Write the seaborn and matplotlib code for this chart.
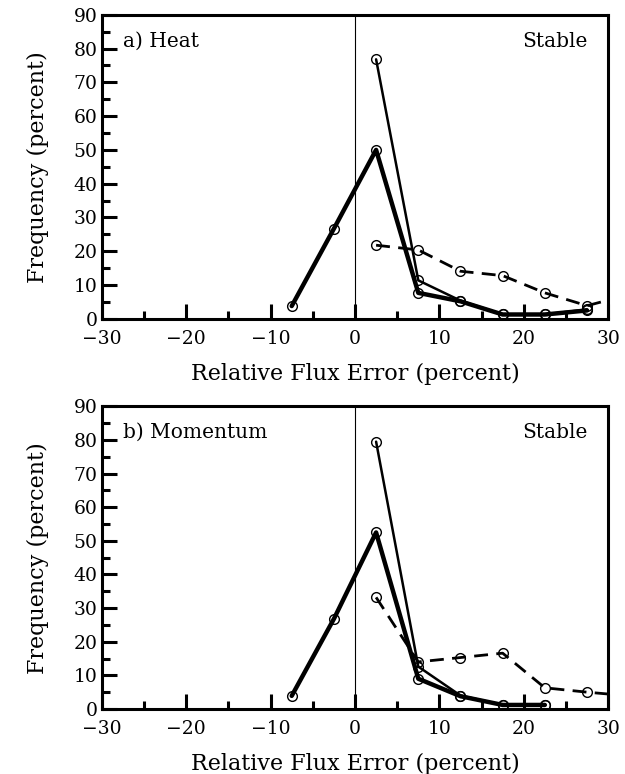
import numpy as np
import pandas as pd
import matplotlib
matplotlib.use("Agg")
import matplotlib.pyplot as plt
import seaborn as sns
from matplotlib.ticker import MultipleLocator

# bin centres (percent)
x_all = [-7.5, -2.5, 2.5, 7.5, 12.5, 17.5, 22.5, 27.5]
x_pos = [2.5, 7.5, 12.5, 17.5, 22.5, 27.5]
x_dash = [2.5, 7.5, 12.5, 17.5, 22.5, 27.5, 32.5]

# a) Heat
heat_thick = [3.8, 26.7, 50.0, 7.7, 5.2, 1.3, 1.3, 2.5]
heat_thin = [76.8, 11.4, 5.4, 1.3, 1.3, 2.8]
heat_dash = [21.8, 20.4, 14.1, 12.8, 7.7, 3.9, 7.2]

# b) Momentum
mom_x_thick = [-7.5, -2.5, 2.5, 7.5, 12.5, 17.5, 22.5]
mom_thick = [3.9, 26.8, 52.5, 9.0, 3.8, 1.2, 1.2]
mom_x_thin = [2.5, 7.5, 12.5, 17.5, 22.5]
mom_thin = [79.5, 12.6, 4.0, 1.2, 1.2]
mom_dash = [33.2, 14.0, 15.3, 16.6, 6.3, 5.0, 3.9]

sns.set_style("ticks")
plt.rcParams['font.family'] = ['DejaVu Serif']
plt.rcParams['font.size'] = 13
plt.rcParams['text.color'] = 'black'
plt.rcParams['axes.labelcolor'] = 'black'
plt.rcParams['xtick.color'] = 'black'
plt.rcParams['ytick.color'] = 'black'
plt.rcParams['axes.edgecolor'] = 'black'

fig = plt.figure(figsize=(6.25, 7.74), dpi=100)
ax1 = fig.add_axes([0.163, 0.588, 0.81, 0.393])
ax2 = fig.add_axes([0.163, 0.084, 0.81, 0.391])

mk = dict(marker='o', markersize=7, markerfacecolor='none',
          markeredgecolor='black', markeredgewidth=1.0)


def panel(ax, xt, yt, xn, yn, xd, yd, label, ly):
    ax.axvline(0, color='black', lw=0.8, zorder=1)
    sns.lineplot(x=xt, y=yt, ax=ax, color='black', lw=3.2, **mk)
    sns.lineplot(x=xn, y=yn, ax=ax, color='black', lw=1.8, **mk)
    sns.lineplot(x=xd, y=yd, ax=ax, color='black', lw=2.0, **mk)
    ax.lines[-1].set_dashes([5, 3])
    ax.set_xlim(-30, 30)
    ax.set_ylim(0, 90)
    ax.xaxis.set_major_locator(MultipleLocator(10))
    ax.xaxis.set_minor_locator(MultipleLocator(5))
    ax.yaxis.set_major_locator(MultipleLocator(10))
    ax.yaxis.set_minor_locator(MultipleLocator(5))
    ax.tick_params(which='major', direction='in', length=11, width=2.2,
                   labelsize=13.5, pad=3)
    ax.tick_params(which='minor', direction='in', length=6, width=2.2)
    ax.tick_params(axis='x', which='major', pad=8)
    ax.tick_params(axis='x', which='both', top=False)
    ax.tick_params(axis='y', which='both', right=False)
    ax.set_xticklabels([f"{v:g}".replace('-', '\u2212') for v in ax.get_xticks()])
    for s in ax.spines.values():
        s.set_linewidth(2.2)
        s.set_visible(True)
    ax.set_xlabel('Relative Flux Error (percent)', fontsize=16, labelpad=11)
    ax.set_ylabel('Frequency (percent)', fontsize=16, labelpad=18)
    ax.text(0.041, ly, label, transform=ax.transAxes, fontsize=14.5,
            va='center', ha='left')
    ax.text(0.96, ly, 'Stable', transform=ax.transAxes, fontsize=14.5,
            va='center', ha='right')


panel(ax1, x_all, heat_thick, x_pos, heat_thin, x_dash, heat_dash,
      'a) Heat', 0.911)
panel(ax2, mom_x_thick, mom_thick, mom_x_thin, mom_thin, x_dash, mom_dash,
      'b) Momentum', 0.914)

fig.savefig('out.png', dpi=100)
